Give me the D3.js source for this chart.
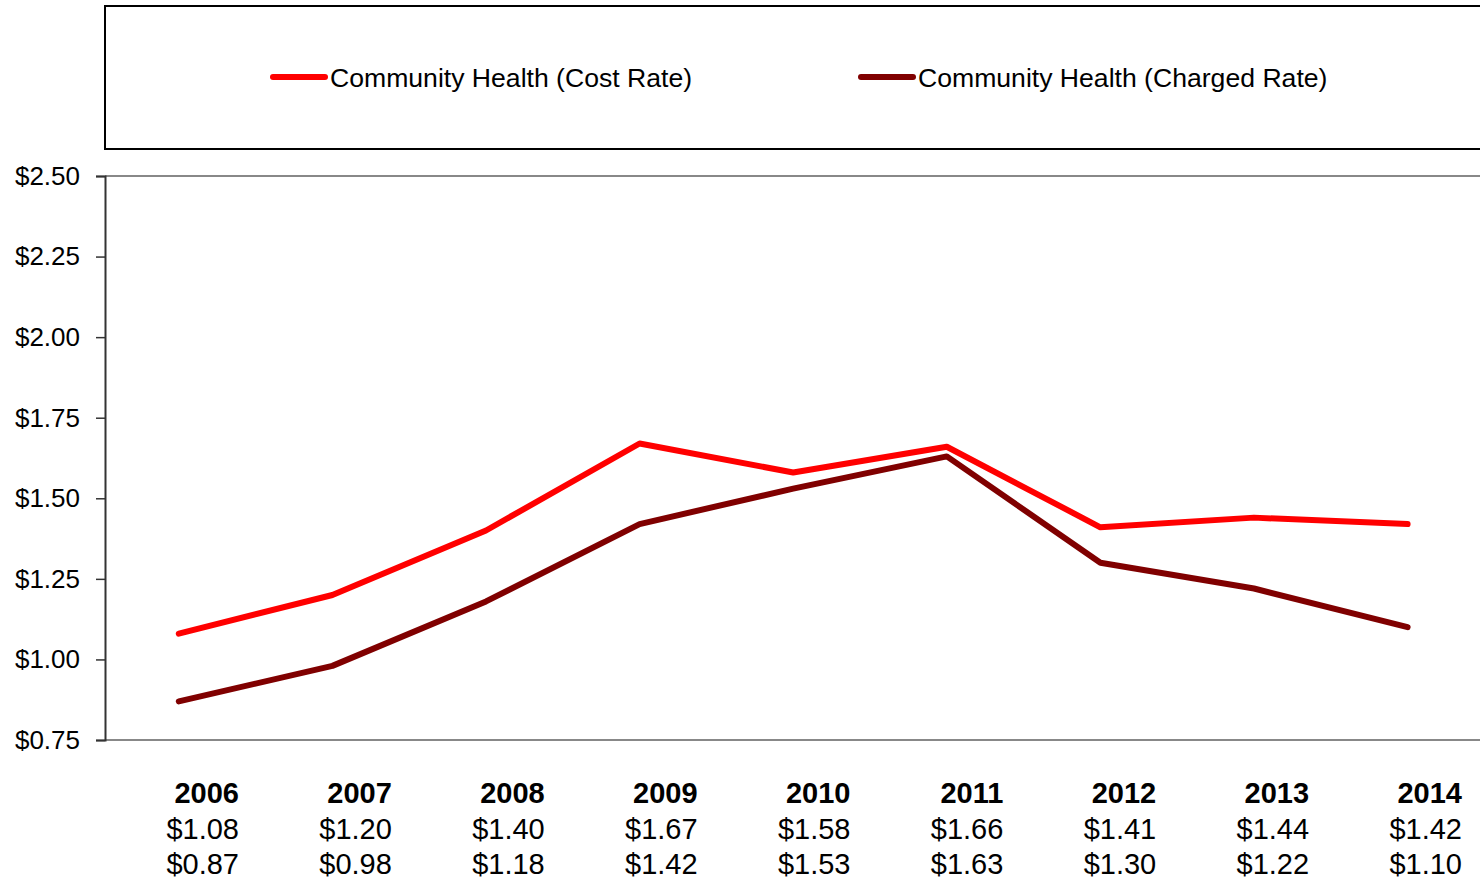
<!DOCTYPE html>
<html><head><meta charset="utf-8">
<script src="https://cdn.jsdelivr.net/npm/d3@7"></script>
<style>body{margin:0;background:#fff;overflow:hidden}svg{display:block;font-family:Arial,"Liberation Sans",sans-serif}</style>
</head><body><svg id="c" width="1480" height="879"></svg>
<script>
const years = ["2006","2007","2008","2009","2010","2011","2012","2013","2014"];
const costRate = [1.08,1.20,1.40,1.67,1.58,1.66,1.41,1.44,1.42];
const chargedRate = [0.87,0.98,1.18,1.42,1.53,1.63,1.30,1.22,1.10];
const yTicks = [0.75,1.00,1.25,1.50,1.75,2.00,2.25,2.50];
const seriesNames = ["Community Health (Cost Rate)","Community Health (Charged Rate)"];
const seriesColors = ["#ff0000","#800000"];

const svg = d3.select("#c");
const x = d3.scaleBand().domain(years).range([103.5, 103.5 + 9*153.6]);
const y = d3.scaleLinear().domain([0.75, 2.5]).range([740, 176]);
const fmt = v => "$" + v.toFixed(2);

// legend box
svg.append("rect").attr("x",105).attr("y",6).attr("width",1400).attr("height",143)
  .attr("fill","none").attr("stroke","#000").attr("stroke-width",2);
const legX = [270, 858];
seriesNames.forEach((n,i)=>{
  svg.append("line").attr("x1",legX[i]+3).attr("x2",legX[i]+55).attr("y1",77).attr("y2",77)
    .attr("stroke",seriesColors[i]).attr("stroke-width",6).attr("stroke-linecap","round");
  svg.append("text").attr("x",legX[i]+60).attr("y",78).attr("dy","0.35em")
    .attr("font-size",26.6).attr("fill","#000").text(n);
});

// top and bottom lines
[2.5,0.75].forEach(v=>{
  svg.append("line").attr("x1",105).attr("x2",1480).attr("y1",y(v)).attr("y2",y(v))
    .attr("stroke","#888").attr("stroke-width",2);
});

// y axis
const yAxis = d3.axisLeft(y).tickValues(yTicks).tickFormat(fmt).tickSize(9).tickPadding(16);
const ga = svg.append("g").attr("transform","translate(105,0)").call(yAxis);
ga.select(".domain").attr("stroke","#333").attr("stroke-width",2);
ga.selectAll(".tick line").attr("stroke","#333").attr("stroke-width",1.5);
ga.selectAll(".tick text").attr("font-size",26).attr("fill","#000").attr("font-family","Arial, 'Liberation Sans', sans-serif");

// lines
const line = d3.line().x((d,i)=>x(years[i])+x.bandwidth()/2 - 1.5).y(d=>y(d));
[costRate, chargedRate].forEach((s,i)=>{
  svg.append("path").datum(s).attr("d",line).attr("fill","none")
    .attr("stroke",seriesColors[i]).attr("stroke-width",6).attr("stroke-linejoin","round").attr("stroke-linecap","round");
});

// data table
const tx = d3.scalePoint().domain(years).range([239, 1462]);
const rows = [
  {vals: years, y: 793, bold: true},
  {vals: costRate.map(fmt), y: 829, bold: false},
  {vals: chargedRate.map(fmt), y: 864, bold: false}
];
rows.forEach(r=>{
  svg.append("g").selectAll("text").data(r.vals).join("text")
    .attr("x",(d,i)=>tx(years[i])).attr("y",r.y).attr("dy","0.35em")
    .attr("text-anchor","end").attr("font-size",29)
    .attr("font-weight",r.bold?"bold":"normal").attr("fill","#000").text(d=>d);
});
</script></body></html>
